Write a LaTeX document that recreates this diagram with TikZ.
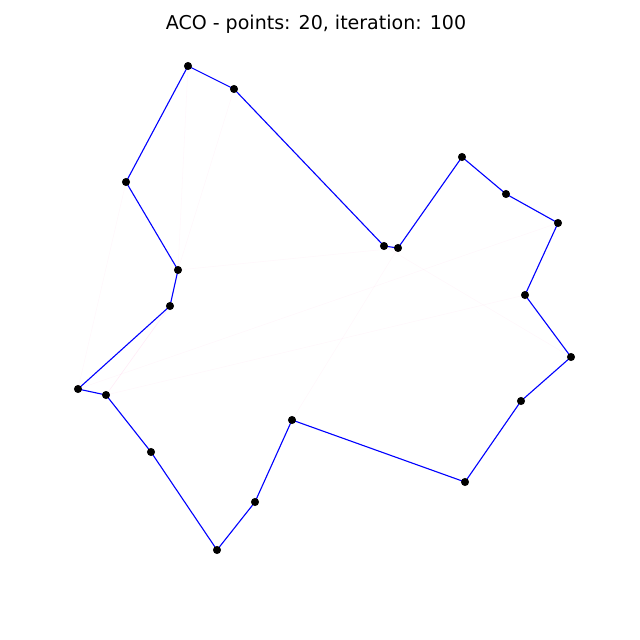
\documentclass[tikz,border=0pt]{standalone}
\usepackage{fontspec}
\setmainfont{DejaVu Sans}
\begin{document}
\begin{tikzpicture}[x=0.72pt,y=-0.72pt,
  pt/.style={circle,fill=black,inner sep=0pt,minimum size=5.8pt},
  tour/.style={blue,line width=0.8pt},
  trail/.style={red!40!magenta,line width=0.4pt,opacity=0.03}]
\useasboundingbox[fill=white] (0,0) rectangle (640,640);
\node[font=\fontsize{13.7}{16}\selectfont] (title) at (316,24) {ACO - points: 20, iteration: 100};
\coordinate (p1) at (188,66);
\coordinate (p2) at (234,89);
\coordinate (p3) at (384,246);
\coordinate (p4) at (398,248);
\coordinate (p5) at (462,157);
\coordinate (p6) at (506,194);
\coordinate (p7) at (558,223);
\coordinate (p8) at (525,295);
\coordinate (p9) at (571,357);
\coordinate (p10) at (521,401);
\coordinate (p11) at (465,482);
\coordinate (p12) at (292,420);
\coordinate (p13) at (255,502);
\coordinate (p14) at (217,550);
\coordinate (p15) at (151,452);
\coordinate (p16) at (106,395);
\coordinate (p17) at (78,389);
\coordinate (p18) at (170,306);
\coordinate (p19) at (178,270);
\coordinate (p20) at (126,182);
% faint pheromone trails
\draw[trail] (p17) -- (p20);
\draw[trail,opacity=0.08] (p16) -- (p18);
\draw[trail] (p12) -- (p4);
\draw[trail] (p19) -- (p1);
\draw[trail] (p19) -- (p4);
\draw[trail] (p3) -- (p9);
\draw[trail] (p16) -- (p8);
\draw[trail] (p17) -- (p7);
\draw[trail] (p2) -- (p19);
% tour
\draw[tour] (p1) -- (p2) -- (p3) -- (p4) -- (p5) -- (p6) -- (p7) -- (p8) -- (p9) -- (p10) -- (p11) -- (p12) -- (p13) -- (p14) -- (p15) -- (p16) -- (p17) -- (p18) -- (p19) -- (p20) -- cycle;
\foreach \i in {1,...,20} \node[pt] (n\i) at (p\i) {};
\end{tikzpicture}
\end{document}
